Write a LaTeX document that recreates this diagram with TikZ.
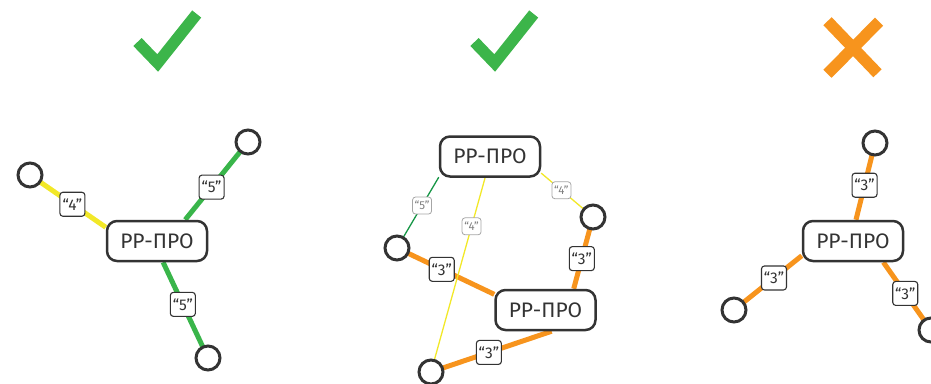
\documentclass[tikz,border=0pt]{standalone}
\usepackage{fontspec}
\setmainfont{Fira Sans}
\usetikzlibrary{backgrounds}
\definecolor{okgreen}{RGB}{60,181,74}
\definecolor{linkgreen}{RGB}{57,181,74}
\definecolor{darkgreen}{RGB}{22,150,70}
\definecolor{linkyellow}{RGB}{242,232,40}
\definecolor{linkorange}{RGB}{247,148,29}
\definecolor{outline}{RGB}{51,51,51}

\begin{document}
\begin{tikzpicture}[x=1pt,y=-1pt,
	site/.style={circle,draw=outline,line width=3pt,fill=white,minimum size=24pt,inner sep=0pt},
	pro/.style={rectangle,rounded corners=10pt,draw=outline,line width=2.5pt,fill=white,
		minimum width=100pt,minimum height=40pt,inner sep=0pt,text=outline,font=\fontsize{21}{25}\selectfont},
	cost/.style={rectangle,rounded corners=3pt,draw=outline,line width=1.1pt,fill=white,
		minimum width=25pt,minimum height=24pt,inner sep=0pt,text=outline,font=\fontsize{15.5}{18}\selectfont},
	faint/.style={cost,draw=gray!70,line width=0.8pt,minimum width=19pt,minimum height=17pt,
		text=gray,font=\fontsize{11.5}{13}\selectfont},
	fat/.style={line width=5pt},
	slim/.style={line width=1.3pt},
	verdict/.style={line width=11.5pt,miter limit=10}]
	\useasboundingbox (0,0) rectangle (931,383);

	% verdicts
	\draw[verdict,okgreen] (137.5,42) -- (157.7,63) -- (196.7,14);
	\draw[verdict,okgreen] (474.5,42) -- (494.7,63) -- (533.7,14);
	\draw[verdict,linkorange] (827.5,21.2) -- (877.5,73.3);
	\draw[verdict,linkorange] (879,21.7) -- (827.5,73.8);

	% left
	\node[pro] (p1) at (157,241) {РР-ПРО};
	\node[site] (s11) at (30,175) {};
	\node[site] (s12) at (248,142) {};
	\node[site] (s13) at (208,358) {};

	% middle
	\node[pro] (p2) at (490,156.5) {РР-ПРО};
	\node[pro] (p3) at (545.5,310) {РР-ПРО};
	\node[site] (s21) at (397,248) {};
	\node[site] (s22) at (593,217) {};
	\node[site] (s23) at (431,372) {};

	% right
	\node[pro] (p4) at (853,241) {РР-ПРО};
	\node[site] (s31) at (875,143) {};
	\node[site] (s32) at (734,310) {};
	\node[site] (s33) at (931,330) {};

	\begin{scope}[on background layer]
		\draw[fat,linkyellow] (s11.center) -- (p1.165) node[cost,pos=0.56] (c11) {“4”};
		\draw[fat,linkgreen] (s12.center) -- (p1.37) node[cost,pos=0.58] (c12) {“5”};
		\draw[fat,linkgreen] (s13.center) -- (p1.-74) node[cost,pos=0.56] (c13) {“5”};

		\draw[fat,linkorange] (s21.center) -- (p3.163) node[cost,pos=0.46] (c21) {“3”};
		\draw[fat,linkorange] (s22.center) -- (p3.37) node[cost,pos=0.58] (c22) {“3”};
		\draw[fat,linkorange] (s23.center) -- (p3.-74) node[cost,pos=0.48] (c23) {“3”};
		\draw[slim,darkgreen] (s21.center) -- (p2.202) node[faint,pos=0.6] (c24) {“5”};
		\draw[slim,linkyellow] (s23.center) -- (p2.257) node[faint,pos=0.75] (c25) {“4”};
		\draw[slim,linkyellow] (s22.center) -- (p2.-18) node[faint,pos=0.61] (c26) {“4”};

		\draw[fat,linkorange] (s31.center) -- (p4.82) node[cost,pos=0.55] (c31) {“3”};
		\draw[fat,linkorange] (s32.center) -- (p4.196) node[cost,pos=0.59] (c32) {“3”};
		\draw[fat,linkorange] (s33.center) -- (p4.-35) node[cost,pos=0.54] (c33) {“3”};
	\end{scope}
\end{tikzpicture}
\end{document}
